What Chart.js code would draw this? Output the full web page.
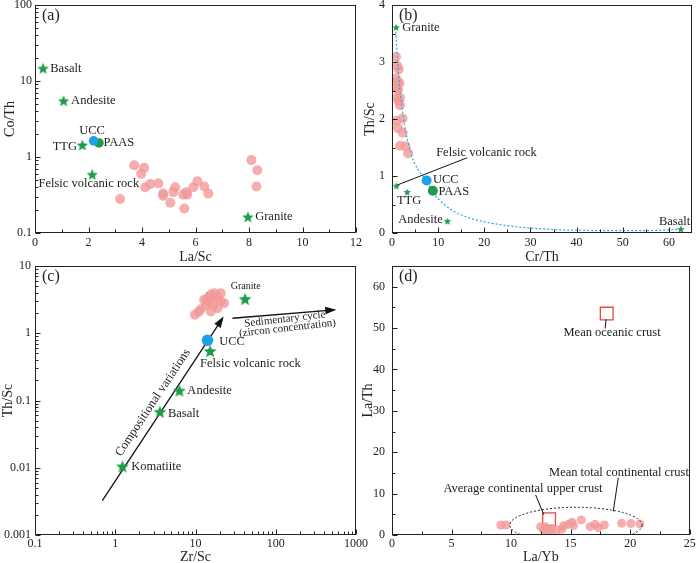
<!DOCTYPE html>
<html>
<head>
    <title>Discrimination diagrams</title>
    <style>
        body { margin: 0; background: #ffffff; overflow: hidden; }
        canvas { position: absolute; }
    </style>
    <script src="https://cdn.jsdelivr.net/npm/chart.js"></script>
</head>
<body>
    <canvas id="ca" width="380" height="274" style="left:0;top:-10px"></canvas>
    <canvas id="cb" width="344" height="274" style="left:356px;top:-10px"></canvas>
    <canvas id="cc" width="380" height="314" style="left:0;top:250px"></canvas>
    <canvas id="cd" width="344" height="314" style="left:356px;top:250px"></canvas>
    <script>
        // (a) La/Sc vs Co/Th
        const aLaSc = [3.71, 4.08, 3.97, 3.18, 4.12, 4.31, 4.61, 4.79, 4.79, 5.06, 5.17, 5.24, 5.54, 5.58, 5.66, 5.69, 5.92, 6.07, 6.33, 6.48, 8.09, 8.31, 8.28];
        const aCoTh = [0.78, 0.72, 0.60, 0.28, 0.40, 0.44, 0.45, 0.33, 0.31, 0.25, 0.345, 0.40, 0.32, 0.21, 0.345, 0.32, 0.40, 0.48, 0.41, 0.33, 0.91, 0.67, 0.41];
        const aRefNames = ['Basalt', 'Andesite', 'TTG', 'Felsic volcanic rock', 'Granite'];
        const aRefLaSc = [0.3, 1.07, 1.77, 2.14, 7.96];
        const aRefCoTh = [14.7, 5.5, 1.44, 0.59, 0.163];
        const aUCC = [2.19, 1.63];
        const aPAAS = [2.39, 1.53];
        const aXTicks = [0, 2, 4, 6, 8, 10, 12];
        const aYTicks = [0.1, 1, 10, 100];

        // (b) Cr/Th vs Th/Sc
        const bCrTh = [0.87, 1.15, 1.45, 0.87, 1.15, 1.6, 1.0, 1.3, 1.15, 1.74, 1.45, 1.74, 1.0, 2.3, 1.3, 2.3, 1.74, 2.9, 3.5];
        const bThSc = [3.09, 2.93, 2.87, 2.71, 2.66, 2.63, 2.55, 2.51, 2.37, 2.37, 2.31, 2.24, 1.97, 2.01, 1.84, 1.76, 1.53, 1.52, 1.40];
        const bRefNames = ['Granite', 'Felsic volcanic rock', 'TTG', 'Andesite', 'Basalt'];
        const bRefCrTh = [0.9, 0.95, 3.3, 12, 62.6];
        const bRefThSc = [3.61, 0.83, 0.72, 0.21, 0.07];
        const bUCC = [7.5, 0.92];
        const bPAAS = [8.85, 0.74];
        const bCurveCrTh = [0.72, 0.93, 1.5, 2.5, 3.5, 4.5, 6, 7.5, 9, 12.6, 16.2, 19.8, 27, 34, 42, 50, 57, 62.6];
        const bCurveThSc = [3.6, 3.38, 2.7, 2.0, 1.58, 1.3, 1.07, 0.92, 0.7, 0.42, 0.28, 0.2, 0.11, 0.065, 0.045, 0.04, 0.045, 0.065];
        const bXTicks = [0, 10, 20, 30, 40, 50, 60];
        const bYTicks = [0, 1, 2, 3, 4];

        // (c) Zr/Sc vs Th/Sc
        const cZrSc = [9.8, 11.6, 13.4, 12.8, 14.7, 17.0, 18.8, 20.6, 17.0, 15.5, 18.8, 14.7, 16.3, 20.6, 22.7, 11.0, 13.8, 15.5];
        const cThSc = [1.88, 2.28, 2.64, 3.14, 3.52, 3.95, 3.52, 2.96, 2.64, 2.10, 2.36, 2.96, 3.33, 3.95, 2.80, 2.08, 3.14, 3.73];
        const cRefNames = ['Komatiite', 'Basalt', 'Andesite', 'Felsic volcanic rock', 'Granite'];
        const cRefZrSc = [1.23, 3.6, 6.3, 15.2, 41.5];
        const cRefThSc = [0.0105, 0.068, 0.141, 0.545, 3.25];
        const cUCC = [14.1, 0.786];
        const cCompArrow = [[0.69, 0.00325], [21.7, 1.67]];
        const cSedArrow = [[28.9, 1.67], [536, 2.23]];
        const cXTicks = [0.1, 1, 10, 100, 1000];
        const cYTicks = [0.001, 0.01, 0.1, 1, 10];

        // (d) La/Yb vs La/Th
        const dLaYb = [9.13, 9.56, 12.48, 12.75, 13.03, 12.9, 13.44, 13.31, 13.86, 14.28, 14.42, 14.83, 15.11, 15.25, 15.89, 16.64, 17.06, 17.33, 17.83, 19.28, 20.06, 20.81];
        const dLaTh = [2.43, 2.43, 2.02, 1.22, 0.80, 2.02, 1.6, 0.97, 1.22, 1.46, 2.26, 2.58, 3.07, 2.26, 3.65, 2.02, 2.58, 1.78, 2.43, 2.82, 2.75, 2.68];
        const dOceanic = [18.03, 53.5];
        const dUpperCrust = [13.19, 3.8];
        const dTotalCrust = { x: 15.45, y: 2.4, rx: 5.55, ry: 4.3 };
        const dXTicks = [0, 5, 10, 15, 20, 25];
        const dYTicks = [0, 10, 20, 30, 40, 50, 60];

        const SERIF = "'Liberation Serif', 'Times New Roman', serif";
        const PINK = 'rgba(243, 152, 152, 0.8)';
        const GREEN = '#1e9b4b';
        const BLUE = '#1ea0e2';
        const RED = '#e8493c';

        function starImage(r, color) {
            const c = document.createElement('canvas');
            const s = Math.ceil(r * 2 + 2);
            c.width = s; c.height = s;
            const g = c.getContext('2d');
            g.fillStyle = color;
            g.beginPath();
            for (let i = 0; i < 10; i++) {
                const rr = i % 2 ? r * 0.44 : r;
                const ang = -Math.PI / 2 + i * Math.PI / 5;
                const px = s / 2 + rr * Math.cos(ang), py = s / 2 + r * 0.1 + rr * Math.sin(ang);
                if (i) g.lineTo(px, py); else g.moveTo(px, py);
            }
            g.closePath();
            g.fill();
            return c;
        }

        function logMinors(lo, hi) {
            const out = [];
            for (let d = lo; d < hi * 0.99; d *= 10) {
                for (let k = 2; k < 10; k++) out.push(d * k);
            }
            return out;
        }

        const pts = (xs, ys) => xs.map((x, i) => ({ x: x, y: ys[i] }));
        const pair = p => [{ x: p[0], y: p[1] }];

        function axis(type, min, max, ticks, title, o) {
            return {
                type: type, min: min, max: max,
                grid: { display: false, drawTicks: false },
                border: { display: false },
                afterBuildTicks: s => { s.ticks = ticks.map(v => ({ value: v })); },
                ticks: {
                    font: { family: SERIF, size: 12 }, color: '#222', padding: o.pad,
                    autoSkip: false, maxRotation: 0, callback: v => String(v)
                },
                title: {
                    display: true, text: title, color: '#222',
                    font: { family: SERIF, size: 14, lineHeight: 1 }, padding: o.tpad
                },
                afterFit: s => {
                    if (s.isHorizontal()) { s.height = o.size; s.paddingLeft = 0; s.paddingRight = 0; }
                    else { s.width = o.size; s.paddingTop = 0; s.paddingBottom = 0; }
                }
            };
        }

        // extra drawing per chart: frame, inward ticks, text, arrows, ellipse
        const overlays = {};
        const overlay = {
            id: 'overlay',
            afterDatasetsDraw(chart) {
                const o = overlays[chart.canvas.id];
                if (!o) return;
                const ctx = chart.ctx, ca = chart.chartArea;
                const sx = chart.scales.x, sy = chart.scales.y;
                ctx.save();

                if (o.ellipse) {
                    const e = o.ellipse;
                    const cx = sx.getPixelForValue(e.x), cy = sy.getPixelForValue(e.y);
                    const rx = Math.abs(sx.getPixelForValue(e.x + e.rx) - cx);
                    const ry = Math.abs(sy.getPixelForValue(e.y + e.ry) - cy);
                    ctx.save();
                    ctx.beginPath();
                    ctx.rect(ca.left, ca.top, ca.right - ca.left, ca.bottom - ca.top);
                    ctx.clip();
                    ctx.beginPath();
                    ctx.ellipse(cx, cy, rx, ry, 0, 0, Math.PI * 2);
                    ctx.setLineDash([2, 2]);
                    ctx.strokeStyle = '#222';
                    ctx.lineWidth = 1;
                    ctx.stroke();
                    ctx.restore();
                }

                // arrow heads on datasets flagged with arrow
                chart.data.datasets.forEach((ds, i) => {
                    if (!ds.arrow) return;
                    const d = chart.getDatasetMeta(i).data;
                    const p1 = d[d.length - 2], p2 = d[d.length - 1];
                    const ang = Math.atan2(p2.y - p1.y, p2.x - p1.x);
                    ctx.save();
                    ctx.translate(p2.x, p2.y);
                    ctx.rotate(ang);
                    ctx.fillStyle = '#111';
                    ctx.beginPath();
                    ctx.moveTo(2, 0);
                    ctx.lineTo(-9, -3.8);
                    ctx.lineTo(-9, 3.8);
                    ctx.closePath();
                    ctx.fill();
                    ctx.restore();
                });

                ctx.fillStyle = '#222';
                ctx.textBaseline = 'middle';
                (o.labels || []).forEach(l => {
                    ctx.save();
                    ctx.font = (l.s || 12.5) + 'px ' + SERIF;
                    ctx.textAlign = l.a || 'left';
                    ctx.translate(sx.getPixelForValue(l.x), sy.getPixelForValue(l.y));
                    if (l.r) ctx.rotate(l.r * Math.PI / 180);
                    ctx.fillText(l.t, 0, 0);
                    ctx.restore();
                });

                ctx.font = '16px ' + SERIF;
                ctx.textAlign = 'left';
                ctx.fillText(o.letter, ca.left + 7, ca.top + 11);

                // frame
                ctx.strokeStyle = '#222';
                ctx.lineWidth = 1;
                const L = Math.round(ca.left) + 0.5, T = Math.round(ca.top) + 0.5;
                const R = Math.round(ca.right) - 0.5, B = Math.round(ca.bottom) - 0.5;
                ctx.strokeRect(L, T, R - L, B - T);
                ctx.beginPath();
                const tick = (vals, len, horiz) => vals.forEach(v => {
                    if (horiz) {
                        const px = Math.round(sx.getPixelForValue(v)) + 0.5;
                        ctx.moveTo(px, B); ctx.lineTo(px, B - len);
                    } else {
                        const py = Math.round(sy.getPixelForValue(v)) + 0.5;
                        ctx.moveTo(L, py); ctx.lineTo(L + len, py);
                    }
                });
                tick(o.xMajor, 5, true);
                tick(o.xMinor, 3, true);
                tick(o.yMajor, 5, false);
                tick(o.yMinor, 3, false);
                ctx.stroke();
                ctx.restore();
            }
        };
        Chart.register(overlay);

        function makeChart(id, datasets, scales, padding) {
            return new Chart(document.getElementById(id), {
                type: 'scatter',
                data: { datasets: datasets },
                options: {
                    responsive: false,
                    animation: false,
                    events: [],
                    layout: { padding: padding },
                    plugins: { legend: { display: false }, tooltip: { enabled: false } },
                    scales: scales
                }
            });
        }

        const pinkSet = (xs, ys, r) => ({
            data: pts(xs, ys), pointRadius: r, backgroundColor: PINK, borderWidth: 0, borderColor: PINK
        });
        const dotSet = (p, color, r) => ({
            data: pair(p), pointRadius: r, backgroundColor: color, borderWidth: 0, borderColor: color
        });
        const starSet = (xs, ys, r) => ({
            data: pts(xs, ys), pointStyle: starImage(r, GREEN), pointRadius: r
        });
        const lineSet = (p, w, extra) => Object.assign({
            data: p.map(q => ({ x: q[0], y: q[1] })), showLine: true, pointRadius: 0,
            borderColor: '#111', borderWidth: w, fill: false
        }, extra || {});

        // ---- (a)
        overlays.ca = {
            letter: '(a)',
            xMajor: aXTicks, xMinor: [1, 3, 5, 7, 9, 11],
            yMajor: aYTicks, yMinor: logMinors(0.1, 100),
            labels: [
                { t: aRefNames[0], x: 0.57, y: 14.7 },
                { t: aRefNames[1], x: 1.35, y: 5.5 },
                { t: 'UCC', x: 2.13, y: 2.2, a: 'center' },
                { t: 'PAAS', x: 2.56, y: 1.53 },
                { t: aRefNames[2], x: 1.57, y: 1.38, a: 'right' },
                { t: aRefNames[3], x: 0.13, y: 0.44 },
                { t: aRefNames[4], x: 8.23, y: 0.163 }
            ]
        };
        makeChart('ca', [
            dotSet(aUCC, BLUE, 4.8),
            dotSet(aPAAS, GREEN, 4.8),
            starSet(aRefLaSc, aRefCoTh, 6),
            pinkSet(aLaSc, aCoTh, 5)
        ], {
            x: axis('linear', 0, 12, aXTicks, 'La/Sc', { pad: 3, size: 31, tpad: { top: 0, bottom: 0 } }),
            y: axis('logarithmic', 0.1, 100, aYTicks, 'Co/Th', { pad: 3, size: 35, tpad: { top: 3, bottom: 0 } })
        }, { top: 15, right: 24, left: 0, bottom: 0 });

        // ---- (b)
        overlays.cb = {
            letter: '(b)',
            xMajor: bXTicks, xMinor: [5, 15, 25, 35, 45, 55],
            yMajor: bYTicks, yMinor: [0.5, 1.5, 2.5, 3.5],
            labels: [
                { t: bRefNames[0], x: 2.2, y: 3.61 },
                { t: bRefNames[1], x: 9.57, y: 1.41 },
                { t: 'UCC', x: 8.86, y: 0.93 },
                { t: 'PAAS', x: 10.07, y: 0.73 },
                { t: bRefNames[2], x: 1.08, y: 0.56 },
                { t: bRefNames[3], x: 11.0, y: 0.225, a: 'right' },
                { t: bRefNames[4], x: 64.6, y: 0.2, a: 'right' }
            ]
        };
        makeChart('cb', [
            dotSet(bUCC, BLUE, 5),
            dotSet(bPAAS, GREEN, 5),
            starSet(bRefCrTh, bRefThSc, 4),
            lineSet([[1.08, 0.84], [16.3, 1.32]], 1),
            lineSet(bCurveCrTh.map((x, i) => [x, bCurveThSc[i]]), 1.2,
                { borderColor: '#27a6e6', borderDash: [2, 2], tension: 0.4, cubicInterpolationMode: 'monotone' }),
            pinkSet(bCrTh, bThSc, 5)
        ], {
            x: axis('linear', 0, 65, bXTicks, 'Cr/Th', { pad: 3, size: 31, tpad: { top: 0, bottom: 0 } }),
            y: axis('linear', 0, 4, bYTicks, 'Th/Sc', { pad: 7, size: 36, tpad: { top: 7, bottom: 0 } })
        }, { top: 15, right: 8, left: 0, bottom: 0 });

        // ---- (c)
        overlays.cc = {
            letter: '(c)',
            xMajor: cXTicks, xMinor: logMinors(0.1, 1000),
            yMajor: cYTicks, yMinor: logMinors(0.001, 10),
            labels: [
                { t: cRefNames[0], x: 1.58, y: 0.0102 },
                { t: cRefNames[1], x: 4.54, y: 0.064 },
                { t: cRefNames[2], x: 7.92, y: 0.141 },
                { t: cRefNames[3], x: 11.4, y: 0.357 },
                { t: cRefNames[4], x: 42.3, y: 4.96, a: 'center', s: 10 },
                { t: 'UCC', x: 19.7, y: 0.75 },
                { t: 'Compositional variations', x: 2.95, y: 0.093, a: 'center', r: -56.5 },
                { t: 'Sedimentary cycle', x: 130, y: 1.62, a: 'center', s: 11, r: -6.5 },
                { t: '(zircon concentration)', x: 140, y: 1.19, a: 'center', s: 11, r: -6.5 }
            ]
        };
        makeChart('cc', [
            dotSet(cUCC, BLUE, 5.8),
            starSet(cRefZrSc, cRefThSc, 6.8),
            lineSet(cCompArrow, 1.3, { arrow: true }),
            lineSet(cSedArrow, 1.3, { arrow: true }),
            pinkSet(cZrSc, cThSc, 5)
        ], {
            x: axis('logarithmic', 0.1, 1000, cXTicks, 'Zr/Sc', { pad: 2, size: 29, tpad: { top: 0, bottom: 0 } }),
            y: axis('logarithmic', 0.001, 10, cYTicks, 'Th/Sc', { pad: 4, size: 35, tpad: { top: 1, bottom: 0 } })
        }, { top: 16, right: 24, left: 0, bottom: 0 });

        // ---- (d)
        overlays.cd = {
            letter: '(d)',
            xMajor: dXTicks, xMinor: [2.5, 7.5, 12.5, 17.5, 22.5],
            yMajor: dYTicks, yMinor: [5, 15, 25, 35, 45, 55],
            ellipse: dTotalCrust,
            labels: [
                { t: 'Mean oceanic crust', x: 18.48, y: 48.8, a: 'center' },
                { t: 'Mean total continental crust', x: 19.06, y: 15.0, a: 'center' },
                { t: 'Average continental upper crust', x: 11.0, y: 11.1, a: 'center' }
            ]
        };
        makeChart('cd', [
            lineSet([[17.98, 52.1], [17.9, 49.9]], 1),
            lineSet([[12.06, 9.7], [12.75, 4.9]], 1),
            lineSet([[19.0, 13.8], [18.58, 5.7]], 1),
            pinkSet(dLaYb, dLaTh, 4.5),
            {
                data: [{ x: dOceanic[0], y: dOceanic[1] }, { x: dUpperCrust[0], y: dUpperCrust[1] }],
                pointStyle: 'rect', pointRadius: 9, borderColor: RED, borderWidth: 1.3,
                backgroundColor: 'rgba(0,0,0,0)'
            }
        ], {
            x: axis('linear', 0, 25, dXTicks, 'La/Yb', { pad: 2, size: 29, tpad: { top: 0, bottom: 0 } }),
            y: axis('linear', 0, 65, dYTicks, 'La/Th', { pad: 7, size: 36, tpad: { top: 5, bottom: 0 } })
        }, { top: 16, right: 8, left: 0, bottom: 0 });
    </script>
</body>
</html>
